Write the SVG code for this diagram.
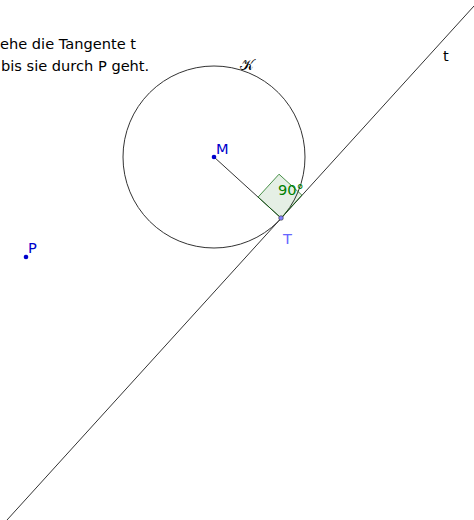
<svg xmlns="http://www.w3.org/2000/svg" width="474" height="520" viewBox="0 0 474 520">
<style>
text{font-family:"DejaVu Sans",sans-serif;font-size:14.6px}
.ln{stroke:#333;stroke-width:1;fill:none}
.blue{fill:#0000cc}
</style>
<rect width="474" height="520" fill="#fff"/>
<g id="text">
<text x="0" y="49">ehe die Tangente t</text>
<text x="1" y="71">bis sie durch P geht.</text>
</g>
<g id="connectors">
<circle id="K" cx="214" cy="157" r="91" class="ln"/>
<line x1="7" y1="520" x2="474" y2="6" class="ln"/>
<line x1="214" y1="157" x2="281" y2="218" class="ln"/>
</g>
<g id="angle">
<polygon points="281,218 258.1,197.1 279,174.2 301.9,195.1" fill="#006400" fill-opacity="0.1" stroke="#006400" stroke-opacity="0.7" stroke-width="1"/>
<text x="278" y="195" fill="#008000" font-size="15">90°</text>
</g>
<g id="labelK"><text x="240" y="70" font-size="19" fill="#000">𝒦</text></g>
<g id="labelt"><text x="443" y="61" font-size="15" fill="#000">t</text></g>
<g id="M"><circle cx="214" cy="157" r="2.3" fill="#0000cc"/><text x="216" y="154" class="blue" font-size="15">M</text></g>
<g id="P"><circle cx="26" cy="257" r="2.3" fill="#0000cc"/><text x="28" y="253" class="blue" font-size="15">P</text></g>
<g id="T"><circle cx="281" cy="218" r="2.3" fill="#8080ff" stroke="#333" stroke-width="0.6"/><text x="283" y="244" fill="#6666ff" font-size="15">T</text></g>
</svg>
